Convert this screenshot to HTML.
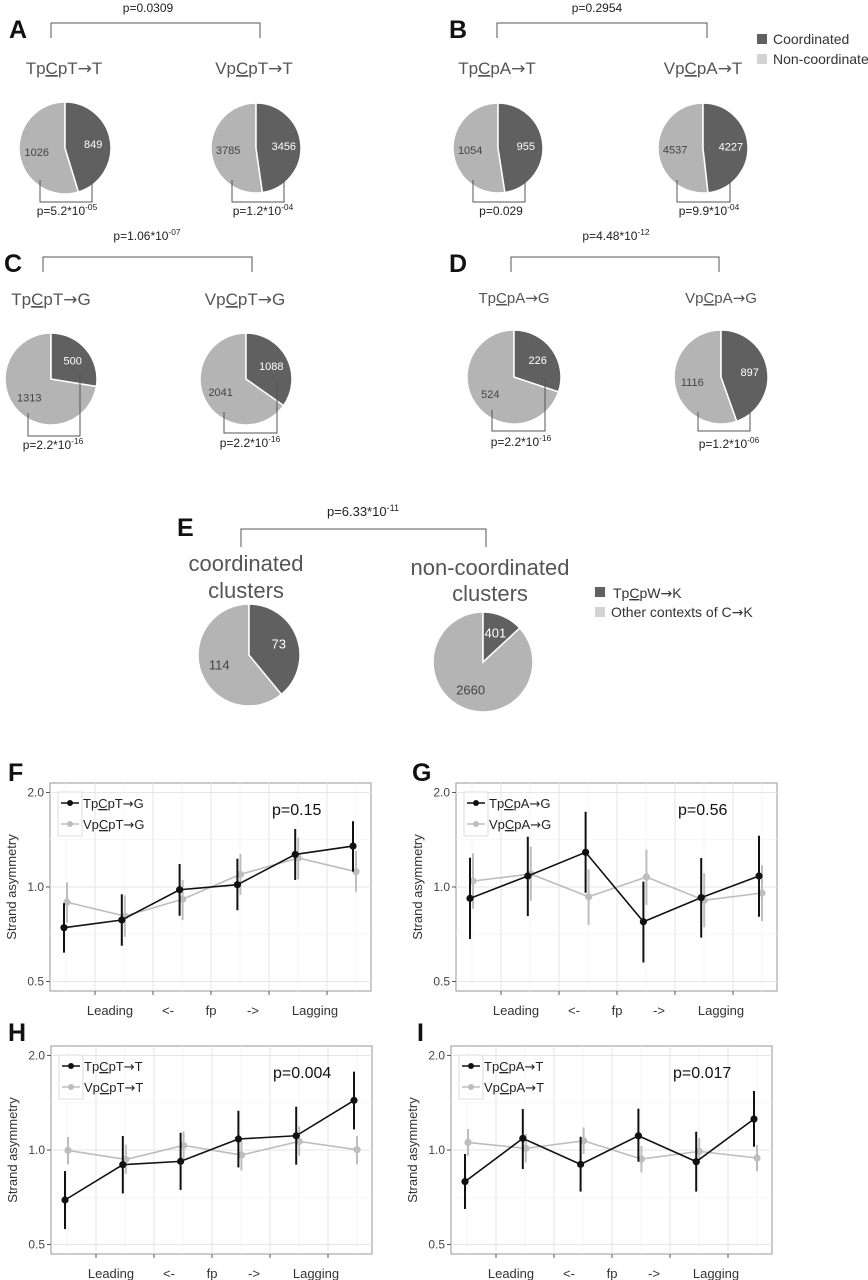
<!DOCTYPE html>
<html><head><meta charset="utf-8"><style>
html,body{margin:0;padding:0;background:#fff;}
svg{display:block;font-family:"Liberation Sans","DejaVu Sans",sans-serif;}
</style></head><body>
<svg id="fig" width="868" height="1280" viewBox="0 0 868 1280">
<g id="pies"></g>
<g id="lines"></g>
</svg>
<script>
// ---------- Pie data ----------
const pieLabels = ["A-T","A-V","B-T","B-V","C-T","C-V","D-T","D-V","E-c","E-n"];
const pieDark = [849,3456,955,4227,500,1088,226,897,73,401];
const pieLight = [1026,3785,1054,4537,1313,2041,524,1116,114,2660];
// ---------- Line chart data (6 positions) ----------
const positions = [1,2,3,4,5,6];
const yTicks = [0.5,1.0,2.0];
const yTickLabels = ["0.5","1.0","2.0"];
const xLabels = ["Leading","<-","fp","->","Lagging"];
const F_t = [0.742,0.785,0.98,1.017,1.27,1.35];
const F_t_hi = [0.888,0.948,1.184,1.231,1.53,1.62];
const F_t_lo = [0.618,0.65,0.81,0.843,1.053,1.119];
const F_v = [0.894,0.808,0.914,1.097,1.237,1.119];
const F_v_hi = [1.035,0.941,1.053,1.274,1.436,1.302];
const F_v_lo = [0.77,0.694,0.785,0.943,1.058,0.966];
const G_t = [0.92,1.084,1.29,0.775,0.925,1.084];
const G_t_hi = [1.24,1.446,1.737,1.04,1.237,1.457];
const G_t_lo = [0.683,0.808,0.959,0.575,0.69,0.804];
const G_v = [1.045,1.10,0.931,1.076,0.907,0.957];
const G_v_hi = [1.28,1.344,1.138,1.318,1.106,1.173];
const G_v_lo = [0.853,0.904,0.757,0.877,0.744,0.779];
const H_t = [0.693,0.898,0.92,1.084,1.11,1.439];
const H_t_hi = [0.857,1.108,1.135,1.334,1.374,1.776];
const H_t_lo = [0.56,0.727,0.746,0.88,0.898,1.163];
const H_v = [0.997,0.933,1.034,0.964,1.065,1.002];
const H_v_hi = [1.10,1.04,1.146,1.07,1.19,1.11];
const H_v_lo = [0.90,0.84,0.936,0.86,0.96,0.90];
const I_t = [0.793,1.089,0.9,1.11,0.918,1.255];
const I_t_hi = [0.971,1.351,1.102,1.354,1.144,1.541];
const I_t_lo = [0.649,0.87,0.737,0.918,0.737,1.024];
const I_v = [1.057,1.012,1.07,0.936,0.99,0.943];
const I_v_hi = [1.166,1.124,1.18,1.03,1.092,1.037];
const I_v_lo = [0.959,0.913,0.971,0.848,0.902,0.855];

const NS="http://www.w3.org/2000/svg";
function mk(tag,attrs,parent){const e=document.createElementNS(NS,tag);for(const k in attrs)e.setAttribute(k,attrs[k]);parent.appendChild(e);return e;}
const svg=document.getElementById('fig');
const piesG=document.getElementById('pies');
const linesG=document.getElementById('lines');

// append string to text element, rendering → with DejaVu Sans
function addStr(t,s){
  s.split('→').forEach((part,i)=>{
    if(i>0){const a=mk('tspan',{'font-family':'DejaVu Sans, sans-serif'},t);a.textContent='→';}
    if(part){const p=mk('tspan',{},t);p.textContent=part;}
  });
}
function txt(x,y,s,size,opt,parent){
  opt=opt||{};
  const t=mk('text',{x:x,y:y,'font-size':size,fill:opt.fill||'#333','text-anchor':opt.anchor||'start','font-weight':opt.weight||'normal'},parent||svg);
  addStr(t,s);
  
  
  return t;
}
var opt_fill='#555';
function ctitle(x,y,pre,post,size,anchor,name,parent){
  const t=mk('text',{x:x,y:y,'font-size':size,fill:opt_fill,'text-anchor':anchor},parent||svg);
  
  
  const a=mk('tspan',{},t);a.textContent=pre;
  const b=mk('tspan',{'text-decoration':'underline'},t);b.textContent='C';
  addStr(t,post);
  return t;
}
function pval(x,y,base,exp,size,name){
  const t=mk('text',{x:x,y:y,'font-size':size,fill:'#222','text-anchor':'middle'},svg);
  
  
  const a=mk('tspan',{},t);a.textContent=base;
  if(exp){const b=mk('tspan',{dy:-5,'font-size':size*0.7},t);b.textContent=exp;}
  return t;
}
function line(x1,y1,x2,y2,col,w,parent,name){
  const l=mk('line',{x1:x1,y1:y1,x2:x2,y2:y2,stroke:col,'stroke-width':w},parent||svg);
  
  
  return l;
}
function poly(pts,col,w,name){
  const p=mk('polyline',{points:pts.map(p=>p.join(',')).join(' '),fill:'none',stroke:col,'stroke-width':w},svg);
  
  
}

// ---------- Pies ----------
const pieGeom=[[65,148,46],[256,148,45],[498,148,45],[703,148,45],[51,379,46],[246,379,46],[514,377,47],[721,377,47],[249,655,51],[483,662,50]];
function arcPath(cx,cy,r,a0,a1){
  const p=(a)=>[cx+r*Math.sin(a),cy-r*Math.cos(a)];
  const s=p(a0),e=p(a1),large=(a1-a0)>Math.PI?1:0;
  return `M${cx},${cy} L${s[0]},${s[1]} A${r},${r} 0 ${large} 1 ${e[0]},${e[1]} Z`;
}
pieDark.forEach((d,i)=>{
  const [cx,cy,r]=pieGeom[i];
  const tot=d+pieLight[i];
  const ang=d/tot*2*Math.PI;
  const g=mk('g',{},piesG);
  
  
  const l=mk('path',{d:arcPath(cx,cy,r,ang,2*Math.PI),fill:'#b4b4b4',stroke:'#fff','stroke-width':1.5},g);
  
  
  const k=mk('path',{d:arcPath(cx,cy,r,0,ang),fill:'#606060',stroke:'#fff','stroke-width':1.5},g);
  
  
  const fs=i>=8?13:11;
  const ma=ang/2, mb=ang+(2*Math.PI-ang)/2;
  const rr=r*0.62;
  txt(cx+rr*Math.sin(ma),cy-rr*Math.cos(ma)+4,String(d),fs,{fill:'#fff',anchor:'middle',name:'slice-value'},g);
  txt(cx+rr*Math.sin(mb),cy-rr*Math.cos(mb)+4,String(pieLight[i]),fs,{fill:'#444',anchor:'middle',name:'slice-value'},g);
});
const brk=[[40,180,92,180,202],[232,180,284,180,202],[473,180,525,180,202],[677,180,730,180,202],[28,413,80,373,436],[224,412,277,380,433],[492,410,545,377,431],[698,412,750,409,431]];
brk.forEach(b=>{
  const p=mk('polyline',{points:`${b[0]},${b[1]} ${b[0]},${b[4]} ${b[2]},${b[4]} ${b[2]},${b[3]}`,fill:'none',stroke:'#555','stroke-width':1},svg);
  
  
});
[[51,260,23,38],[497,707,23,38],[43,252,257,272],[511,719,257,272],[241,486,529,547]].forEach(b=>{
  const p=mk('polyline',{points:`${b[0]},${b[3]} ${b[0]},${b[2]} ${b[1]},${b[2]} ${b[1]},${b[3]}`,fill:'none',stroke:'#555','stroke-width':1},svg);
  
  
});
pval(148,12,'p=0.0309','',12,'p-value-a');
pval(597,12,'p=0.2954','',12,'p-value-b');
pval(147,240,'p=1.06*10','-07',12,'p-value-c');
pval(616,240,'p=4.48*10','-12',12,'p-value-d');
pval(363,516,'p=6.33*10','-11',13,'p-value-e');
pval(67,215,'p=5.2*10','-05',12,'p-value-a-left');
pval(263,215,'p=1.2*10','-04',12,'p-value-a-right');
pval(501,215,'p=0.029','',12,'p-value-b-left');
pval(709,215,'p=9.9*10','-04',12,'p-value-b-right');
pval(53,449,'p=2.2*10','-16',12,'p-value-c-left');
pval(250,447,'p=2.2*10','-16',12,'p-value-c-right');
pval(521,446,'p=2.2*10','-16',12,'p-value-d-left');
pval(729,448,'p=1.2*10','-06',12,'p-value-d-right');
ctitle(64,74,'Tp','pT→T',17,'middle','title-tpcpt-t');
ctitle(254,74,'Vp','pT→T',17,'middle','title-vpcpt-t');
ctitle(497,74,'Tp','pA→T',17,'middle','title-tpcpa-t');
ctitle(703,74,'Vp','pA→T',17,'middle','title-vpcpa-t');
ctitle(51,305,'Tp','pT→G',17,'middle','title-tpcpt-g');
ctitle(245,305,'Vp','pT→G',17,'middle','title-vpcpt-g');
ctitle(514,303,'Tp','pA→G',15,'middle','title-tpcpa-g');
ctitle(721,303,'Vp','pA→G',15,'middle','title-vpcpa-g');
txt(246,571,'coordinated',22,{fill:'#555',anchor:'middle',name:'title-coordinated'});
txt(246,598,'clusters',22,{fill:'#555',anchor:'middle',name:'title-clusters'});
txt(490,575,'non-coordinated',22,{fill:'#555',anchor:'middle',name:'title-non-coordinated'});
txt(490,601,'clusters',22,{fill:'#555',anchor:'middle',name:'title-clusters'});
[['A',9,38],['B',449,38],['C',4,272],['D',449,272],['E',177,536],['F',8,781],['G',412,781],['H',8,1041],['I',417,1041]].forEach(p=>txt(p[1],p[2],p[0],25,{fill:'#111',weight:'bold',name:'panel-letter-'+p[0].toLowerCase()}));
function legendSw(x,y,col,label,name,fs){
  const r=mk('rect',{x:x,y:y,width:10,height:10,fill:col},svg);
  
  
  if(label) txt(x+16,y+10,label,fs||14,{fill:'#333',name:name});
}
legendSw(757,34,'#606060','Coordinated','legend-coordinated',14);
legendSw(757,54,'#d3d3d3','Non-coordinated','legend-non-coordinated',14);
legendSw(595,587,'#606060','','legend-tpcpw');
opt_fill='#333';
ctitle(613,598,'Tp','pW→K',14,'start','legend-tpcpw-label');
opt_fill='#555';
legendSw(595,607,'#d3d3d3','Other contexts of C→K','legend-other-contexts',14);

// ---------- Line charts ----------
const panels=[
 {id:'f',px:50,py:783,t:F_t,th:F_t_hi,tl:F_t_lo,v:F_v,vh:F_v_hi,vl:F_v_lo,lt:['Tp','pT→G'],lv:['Vp','pT→G'],p:'p=0.15'},
 {id:'g',px:456,py:783,t:G_t,th:G_t_hi,tl:G_t_lo,v:G_v,vh:G_v_hi,vl:G_v_lo,lt:['Tp','pA→G'],lv:['Vp','pA→G'],p:'p=0.56'},
 {id:'h',px:51,py:1046,t:H_t,th:H_t_hi,tl:H_t_lo,v:H_v,vh:H_v_hi,vl:H_v_lo,lt:['Tp','pT→T'],lv:['Vp','pT→T'],p:'p=0.004'},
 {id:'i',px:451,py:1046,t:I_t,th:I_t_hi,tl:I_t_lo,v:I_v,vh:I_v_hi,vl:I_v_lo,lt:['Tp','pA→T'],lv:['Vp','pA→T'],p:'p=0.017'}
];
const W=321,H=208;
panels.forEach(P=>{
  const yS=v=>P.py+104-Math.log2(v)*94.5;
  const xS=i=>P.px+14+(i)*57.8;
  const bg=mk('rect',{x:P.px,y:P.py,width:W,height:H,fill:'#fff',stroke:'#a8a8a8','stroke-width':1.2},svg);
  
  
  [Math.SQRT2,Math.SQRT1_2].forEach(v=>line(P.px,yS(v),P.px+W,yS(v),'#f3f3f3',0.8,svg,'grid-minor'));
  for(let k=0;k<6;k++) line(P.px+16+k*58,P.py,P.px+16+k*58,P.py+H,'#f3f3f3',0.8,svg,'grid-minor');
  yTicks.forEach((v,j)=>{
    const y=yS(v);
    line(P.px,y,P.px+W,y,'#e6e6e6',1,svg,'grid-major');
    line(P.px-4,y,P.px,y,'#555',1,svg,'y-tick');
    txt(P.px-6,y+4,yTickLabels[j],12,{fill:'#444',anchor:'end',name:'y-tick-label'});
  });
  for(let k=0;k<5;k++){
    const x=P.px+45+k*58;
    line(x,P.py,x,P.py+H,'#e6e6e6',1,svg,'grid-major');
    line(x,P.py+H,x,P.py+H+4,'#555',1,svg,'x-tick');
  }
  const lx=[60,118,161,203,265];
  xLabels.forEach((s,k)=>txt(P.px+lx[k],P.py+H+24,s,13,{fill:'#333',anchor:'middle',name:'x-label'}));
  const yt=txt(0,0,'Strand asymmetry',13,{fill:'#333',anchor:'middle',name:'y-axis-title'});
  yt.setAttribute('transform',`translate(${P.px-34},${P.py+H/2}) rotate(-90)`);
  const series=[[P.v,P.vh,P.vl,'#bdbdbd',3,'vpc'],[P.t,P.th,P.tl,'#111',0,'tpc']];
  series.forEach(S=>{
    const [vals,hi,lo,col,dx,nm]=S;
    vals.forEach((v,i)=>line(xS(i)+dx,yS(hi[i]),xS(i)+dx,yS(lo[i]),col,2,svg,'error-bar-'+nm));
    poly(vals.map((v,i)=>[xS(i)+dx,yS(v)]),col,1.6,'series-line-'+nm);
    vals.forEach((v,i)=>{
      const c=mk('circle',{cx:xS(i)+dx,cy:yS(v),r:3.6,fill:col},svg);
      
      
    });
  });
  const lb=mk('rect',{x:P.px+8,y:P.py+9,width:24,height:44,fill:'#fff',stroke:'#ddd','stroke-width':1},svg);
  
  
  [[P.lt,'#111',20],[P.lv,'#bdbdbd',41]].forEach(L=>{
    line(P.px+11,P.py+L[2],P.px+29,P.py+L[2],L[1],1.6,svg,'legend-key-line');
    const c=mk('circle',{cx:P.px+20,cy:P.py+L[2],r:3,fill:L[1]},svg);
    
    
    opt_fill='#222';
    ctitle(P.px+33,P.py+L[2]+5,L[0][0],L[0][1],13,'start','legend-entry');
    opt_fill='#555';
  });
  txt(P.px+222,P.py+32,P.p,16,{fill:'#111',name:'p-value-'+P.id});
});
</script>
</body></html>
